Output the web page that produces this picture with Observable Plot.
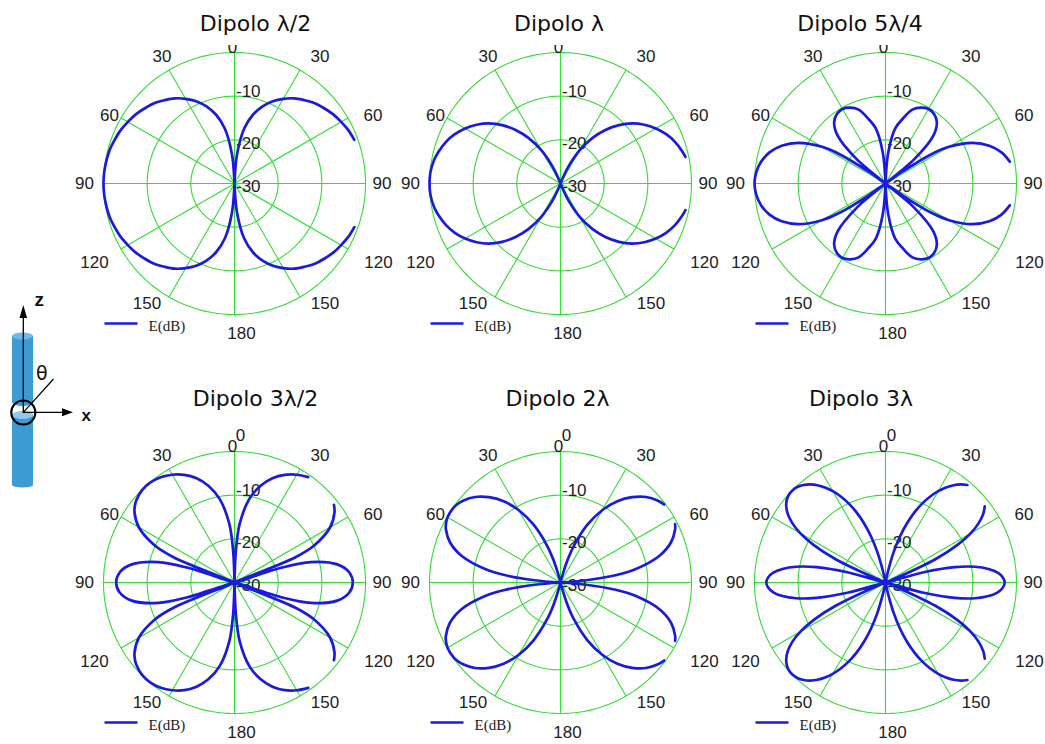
<!DOCTYPE html>
<html><head><meta charset="utf-8">
<script src="https://cdn.jsdelivr.net/npm/d3@7"></script>
<script src="https://cdn.jsdelivr.net/npm/@observablehq/plot@0.6"></script>
<style>
html,body{margin:0;padding:0;background:#fff;overflow:hidden;width:1045px;height:744px}
#wrap{position:relative;width:1045px;height:744px;overflow:hidden;background:#fff}
.panel{position:absolute}
.title{position:absolute;background:#fff;font-family:"DejaVu Sans",sans-serif;font-size:22px;line-height:22px;text-align:center;color:#111;box-sizing:border-box;padding-top:13px;height:45px;width:210px;white-space:nowrap}
#icon{position:absolute;left:0;top:0;z-index:5}
</style></head><body><div id="wrap"></div>
<script>
// ---------------- DATA ----------------
const titles = ["Dipolo λ/2", "Dipolo λ", "Dipolo 5λ/4", "Dipolo 3λ/2", "Dipolo 2λ", "Dipolo 3λ"];
const ringValues = [-20, -10, 0];
const ringLabels = ["-10", "-20", "-30"];
const ringLabelValues = [-10, -20, -30];
const spokeAngles = [0, 30, 60, 90, 120, 150, 180, 210, 240, 270, 300, 330];
const tickLabels = ["0", "0", "30", "30", "60", "60", "90", "90", "120", "120", "150", "150", "180"];
const legendLabel = "E(dB)";

// theta (deg from the dipole axis) and E (dB) for 0..90 deg; the patterns are symmetric
const degHalf = [0, 2, 5, 10, 15, 20, 25, 30, 35, 40, 45, 50, 55, 60, 65, 70, 75, 80, 85, 90];
const dbHalf  = [-30, -30, -23.3, -17.2, -13.7, -11.2, -9.2, -7.6, -6.2, -5.1, -4.0, -3.2, -2.4, -1.8, -1.2, -0.8, -0.4, -0.2, -0.05, 0];

const degFull = [0, 20, 22.5, 25, 30, 35, 40, 45, 50, 55, 60, 65, 70, 75, 78, 80, 85, 90];
const dbFull  = [-30, -30, -28.5, -25.8, -21.1, -17.3, -14.0, -11.1, -8.6, -6.55, -4.8, -3.3, -2.1, -1.2, -0.75, -0.5, -0.1, 0];

const deg54 = [0, 5, 10, 15, 20, 25, 30, 35, 40, 45, 50, 53, 55, 57.5, 60, 65, 70, 75, 80, 85, 90];
const db54  = [-30, -23.0, -17.2, -14.6, -12.0, -10.85, -10.3, -10.6, -11.7, -14.5, -21.6, -30, -25.2, -17.4, -13.2, -8.0, -4.7, -2.5, -1.1, -0.3, 0];

const deg32 = [0, 2.5, 5, 10, 15, 20, 25, 30, 35, 40, 45, 50, 52, 55, 60, 65, 67.5, 70.5, 72.5, 75, 80, 85, 90];
const db32  = [-30, -22.7, -16.6, -10.6, -7.1, -4.6, -2.8, -1.5, -0.55, -0.07, -0.06, -0.66, -1.1, -2.05, -4.7, -9.8, -15.0, -30, -18.8, -11.9, -6.1, -3.6, -2.9];

const deg2 = [0, 12.5, 15, 17.5, 20, 25, 30, 35, 40, 45, 50, 53, 55, 60, 63, 65, 70, 75, 80, 82.5, 85, 87.5, 90];
const db2  = [-30, -30, -28.5, -24.5, -21.05, -15.4, -10.9, -7.3, -4.5, -2.3, -0.86, -0.3, -0.1, -0.12, -0.55, -1.03, -3.06, -6.6, -12.6, -17.3, -24.05, -30, -30];

const deg3 = [0, 10, 12.5, 15, 17.5, 20, 22.5, 25, 27.5, 30, 32.5, 35, 37.5, 40, 42.5, 45, 47.5, 50, 52.5, 55, 57.5, 60, 62.5, 65, 67.5, 70.5, 75, 77.5, 80, 82.5, 85, 87.5, 90];
const db3  = [-30, -30, -27.55, -22.8, -18.9, -15.5, -12.55, -10.0, -7.8, -5.85, -4.2, -2.8, -1.7, -0.85, -0.28, -0.02, -0.08, -0.5, -1.35, -2.7, -4.7, -7.5, -11.5, -17.4, -27.5, -30, -20.95, -13.75, -9.2, -6.2, -4.2, -3.1, -2.7];

// angular ranges (deg) where the trace is missing on the right-hand side
const gapsHalf = [[71, 109]];
const gapsFull = [[79, 101]];
const gaps54   = [[81, 99]];
const gaps32   = [[36, 51], [129, 144]];
const gaps2    = [[53.5, 62.5], [117.5, 126.5]];
const gaps3    = [[40.5, 51], [129, 139.5]];

// ---------------- LAYOUT ----------------
const K = 131 / 30;               // px per dB
const PW = 326, PH = 345, CY = 183;
const centers = [[233.5, 183], [559.5, 183], [885, 183], [234, 582], [560, 582], [885, 582]];
const titleX = [255.5, 559, 860, 255.5, 557.5, 861];
const titleTop = [0, 0, 0, 375, 375, 375];
// tick label offsets in px (dx right, dy down) for tickLabels
const tickOffsets = [[-2, -136], [6, -147], [-72.5, -126.5], [85.5, -126.5], [-125, -67.5], [138.5, -67.5],
  [-150, 0], [147.5, 0], [-140, 79], [144, 79], [-87.5, 120.5], [90.5, 120.5], [7, 150]];
const ringLabelDy = [4.5, -3.5, -3];
const GREEN = "#33dd33", BLUE = "#1a1ae0", INK = "#222";

const series = [
  [degHalf, dbHalf, gapsHalf], [degFull, dbFull, gapsFull], [deg54, db54, gaps54],
  [deg32, db32, gaps32], [deg2, db2, gaps2], [deg3, db3, gaps3]
];

const rad = d => d * Math.PI / 180;

function curvePoints(deg, db, gaps) {
  const n = deg.length;
  const half = deg.map((a, i) => [a, db[i]]);
  for (let i = n - 2; i >= 0; i--) half.push([180 - deg[i], db[i]]);
  const pts = [];
  for (const [phi, v] of half) {
    const r = Math.max(0, v + 30);
    const hidden = gaps.some(([a, b]) => phi > a && phi < b);
    pts.push(hidden ? {x: NaN, y: NaN} : {x: r * Math.sin(rad(phi)), y: r * Math.cos(rad(phi))});
  }
  for (let i = half.length - 1; i >= 0; i--) {
    const [phi, v] = half[i];
    const r = Math.max(0, v + 30);
    pts.push({x: -r * Math.sin(rad(phi)), y: r * Math.cos(rad(phi))});
  }
  return pts;
}

const ringPts = [];
for (const v of ringValues) for (let a = 0; a <= 360; a += 2) ringPts.push({ring: v, x: (v + 30) * Math.sin(rad(a)), y: (v + 30) * Math.cos(rad(a))});
const spokes = spokeAngles.map(a => ({x2: 30 * Math.sin(rad(a)), y2: 30 * Math.cos(rad(a))}));
const allTicks = tickLabels.map((t, i) => ({t, i, x: tickOffsets[i][0] / K, y: -tickOffsets[i][1] / K}));
const rlabels = ringLabels.map((t, i) => ({t, x: 1.5 / K, y: (ringLabelValues[i] + 30) + ringLabelDy[i] / K}));

const wrap = document.getElementById("wrap");

series.forEach(([deg, db, gaps], idx) => {
  const pts = curvePoints(deg, db, gaps);
  // in the top row the raised second "0" sits entirely under the title box
  const ticks = idx < 3 ? allTicks.filter(d => d.i !== 1) : allTicks;
  const chart = Plot.plot({
    width: PW, height: PH, margin: 0,
    style: {background: "transparent", overflow: "visible"},
    x: {domain: [-(PW / 2) / K, (PW / 2) / K], axis: null},
    y: {domain: [-(PH - CY) / K, CY / K], axis: null},
    marks: [
      Plot.line(ringPts, {x: "x", y: "y", z: "ring", stroke: GREEN, strokeWidth: 1.1}),
      Plot.link(spokes, {x1: 0, y1: 0, x2: "x2", y2: "y2", stroke: GREEN, strokeWidth: 1.1}),
      Plot.text(ticks, {x: "x", y: "y", text: "t", fontFamily: "Liberation Sans", fontSize: 17, fill: INK}),
      Plot.text(rlabels, {x: "x", y: "y", text: "t", textAnchor: "start", fontFamily: "Liberation Sans", fontSize: 17, fill: INK}),
      Plot.line(pts, {x: "x", y: "y", stroke: BLUE, strokeWidth: 2.7, curve: "catmull-rom"}),
      Plot.link([legendLabel], {x1: -130 / K, x2: -97 / K, y1: -140 / K, y2: -140 / K, stroke: BLUE, strokeWidth: 2.7}),
      Plot.text([legendLabel], {x: -86 / K, y: -142.5 / K, text: d => d, textAnchor: "start", fontFamily: "Liberation Serif", fontSize: 15, fill: INK})
    ]
  });
  chart.classList.add("panel");
  chart.style.left = (centers[idx][0] - PW / 2) + "px";
  chart.style.top = (centers[idx][1] - CY) + "px";
  wrap.appendChild(chart);
  const t = document.createElement("div");
  t.className = "title";
  t.textContent = titles[idx];
  t.style.left = (titleX[idx] - 105) + "px";
  t.style.top = titleTop[idx] + "px";
  wrap.appendChild(t);
});

// dipole sketch with the z / x axes and theta
const ns = "http://www.w3.org/2000/svg";
const icon = document.createElementNS(ns, "svg");
icon.setAttribute("id", "icon");
icon.setAttribute("width", "110");
icon.setAttribute("height", "744");
icon.innerHTML = `
  <rect x="12" y="414" width="21" height="71" fill="#3d9bd3"/>
  <ellipse cx="22.5" cy="485" rx="10.5" ry="2.5" fill="#3d9bd3"/>
  <ellipse cx="22.5" cy="415" rx="10.5" ry="4" fill="#8fcaee"/>
  <rect x="12" y="336" width="21" height="66" fill="#3d9bd3"/>
  <ellipse cx="22.5" cy="402" rx="10.5" ry="4" fill="#3d9bd3"/>
  <ellipse cx="22.5" cy="336" rx="10.5" ry="3.5" fill="#6fb9e6"/>
  <line x1="23.3" y1="413" x2="23.3" y2="315" stroke="#000" stroke-width="1.3"/>
  <polygon points="23.3,305 19.5,318 27.1,318" fill="#000"/>
  <line x1="23.3" y1="412.3" x2="64" y2="412.3" stroke="#000" stroke-width="1.3"/>
  <polygon points="73,412.3 62,408.3 62,416.3" fill="#000"/>
  <line x1="23.3" y1="412.3" x2="53.5" y2="379" stroke="#000" stroke-width="1.2"/>
  <circle cx="23.3" cy="412.5" r="12" fill="none" stroke="#000" stroke-width="2.2"/>
  <text x="34.5" y="305.5" font-family="Liberation Sans" font-weight="bold" font-size="19" fill="#111">z</text>
  <text x="81.5" y="420.5" font-family="Liberation Sans" font-weight="bold" font-size="17" fill="#111">x</text>
  <text x="36" y="380" font-family="DejaVu Sans" font-size="19" fill="#111">θ</text>`;
wrap.appendChild(icon);
</script>
</body></html>
